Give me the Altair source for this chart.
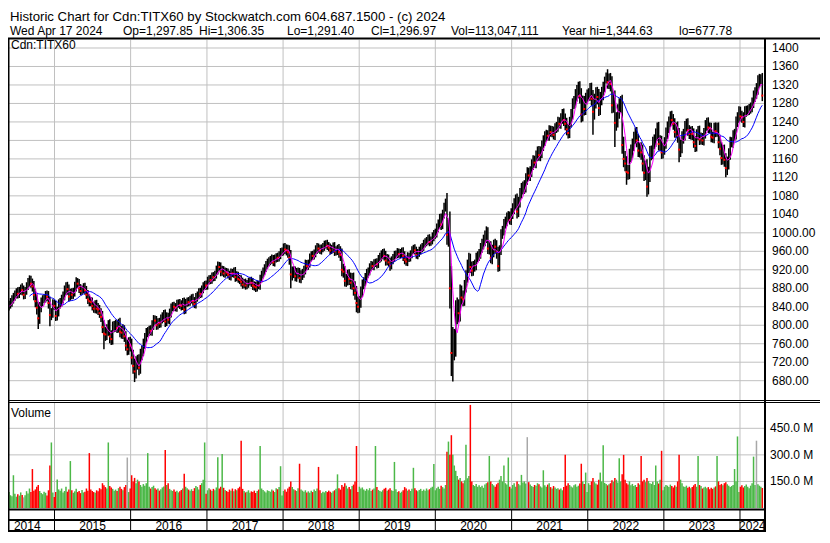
import altair as alt
import numpy as np
import pandas as pd

FONT = "Liberation Sans"
GRID = "#c0c0c0"
RED = "#ff0000"
GREEN = "#4cb848"
GRAY = "#a8a8a8"
MAGENTA = "#ff00ff"
BLUE = "#0000ff"

W, H = 812, 524
PLOT_R = 757
P_TOP, P_BOT = 32, 392
V_TOP, V_BOT = 394, 500

HEADER_1 = "Historic Chart for Cdn:TITX60 by Stockwatch.com 604.687.1500 - (c) 2024"
HEADER_2 = ["Wed Apr 17 2024", "Op=1,297.85", "Hi=1,306.35", "Lo=1,291.40", "Cl=1,296.97",
            "Vol=113,047,111", "Year hi=1,344.63", "lo=677.78"]
HEADER_2_X = [2, 115, 191, 279, 363, 443, 554, 671]

YEARS = [2014, 2015, 2016, 2017, 2018, 2019, 2020, 2021, 2022, 2023, 2024]

# weekly closes (Wednesdays)
CL_2014 = [836, 840, 838, 842, 840, 845, 850, 855, 862, 866, 872, 868, 874, 880, 876, 866, 874, 885, 893, 898,
           890, 884, 866, 852, 838, 815, 838, 850, 856, 858, 865, 862, 848, 822, 826, 846, 842]
CL_2015 = [820, 830, 845, 850, 856, 864, 876, 882, 878, 862, 870, 866, 872, 884, 893, 890, 880, 874, 878, 882,
           876, 866, 856, 852, 850, 842, 836, 844, 836, 834, 826, 818, 796, 782, 780, 790, 798, 776, 770, 796,
           798, 800, 794, 804, 786, 784, 788, 776, 756, 748, 762, 756]
CL_2016 = [730, 712, 700, 718, 722, 708, 736, 744, 760, 772, 784, 786, 790, 788, 800, 812, 810, 800, 806, 804,
           814, 818, 822, 808, 818, 812, 826, 838, 842, 840, 838, 846, 848, 844, 842, 850, 834, 848, 852, 850,
           856, 858, 852, 846, 860, 864, 872, 868, 878, 884, 888, 886]
CL_2017 = [896, 900, 898, 906, 904, 910, 920, 928, 926, 916, 920, 912, 916, 914, 910, 906, 914, 912, 916, 904,
           908, 900, 898, 894, 888, 892, 886, 890, 894, 896, 892, 886, 884, 882, 888, 886, 900, 910, 916, 924,
           930, 936, 938, 942, 944, 936, 944, 948, 946, 952, 958, 960]
CL_2018 = [968, 964, 962, 958, 946, 910, 914, 916, 906, 912, 914, 902, 908, 912, 920, 932, 928, 934, 946, 952,
           950, 956, 964, 968, 966, 962, 966, 970, 974, 976, 972, 968, 962, 966, 970, 960, 962, 964, 958, 952,
           920, 916, 896, 898, 908, 900, 892, 898, 880, 870, 848, 840]
CL_2019 = [850, 872, 888, 894, 904, 912, 916, 926, 930, 928, 934, 936, 932, 944, 948, 952, 956, 950, 940, 944,
           936, 930, 940, 946, 952, 954, 958, 954, 956, 958, 950, 942, 938, 948, 946, 954, 962, 966, 962, 952,
           956, 962, 966, 970, 976, 980, 982, 988, 980, 984, 992, 996]
CL_2020 = [1000, 1010, 1020, 1030, 1018, 1040, 1056, 1064, 996, 1002, 880, 740, 756, 760, 826, 836, 826, 870,
           860, 856, 884, 906, 928, 942, 926, 918, 928, 930, 946, 950, 954, 968, 976, 984, 992, 1000, 966, 970,
           946, 960, 972, 970, 958, 928, 962, 998, 1004, 1020, 1024, 1034, 1036, 1028, 1042]
CL_2021 = [1052, 1064, 1070, 1046, 1066, 1086, 1096, 1098, 1100, 1116, 1130, 1124, 1132, 1148, 1156, 1152, 1166,
           1176, 1168, 1174, 1188, 1200, 1208, 1212, 1210, 1222, 1218, 1220, 1212, 1226, 1230, 1240, 1236, 1248,
           1256, 1244, 1236, 1224, 1216, 1240, 1256, 1280, 1284, 1298, 1306, 1312, 1296, 1256, 1282, 1268, 1290,
           1298]
CL_2022 = [1300, 1310, 1290, 1262, 1284, 1300, 1294, 1270, 1290, 1302, 1312, 1330, 1340, 1326, 1330, 1322, 1276,
           1290, 1238, 1244, 1262, 1276, 1280, 1190, 1160, 1150, 1132, 1130, 1168, 1176, 1190, 1206, 1214, 1200,
           1178, 1180, 1174, 1150, 1130, 1140, 1100, 1126, 1172, 1174, 1194, 1200, 1212, 1226, 1192, 1196, 1174,
           1182]
CL_2023 = [1194, 1216, 1228, 1240, 1252, 1244, 1236, 1218, 1226, 1210, 1180, 1186, 1206, 1212, 1230, 1236, 1222,
           1214, 1218, 1214, 1196, 1188, 1212, 1220, 1202, 1206, 1200, 1216, 1232, 1238, 1228, 1226, 1208, 1206,
           1226, 1220, 1226, 1196, 1182, 1162, 1176, 1158, 1140, 1150, 1170, 1196, 1196, 1210, 1214, 1240, 1250,
           1262]
CL_2024 = [1252, 1250, 1240, 1262, 1264, 1266, 1268, 1272, 1282, 1296, 1302, 1312, 1328, 1330, 1334, 1297]

# extension of each weekly bar beyond its open/close (price units)
WK_2014 = [9, 8, 10, 8, 9, 8, 9, 10, 8, 9, 8, 10, 9, 8, 11, 10, 9, 8, 9, 10, 9, 11, 12, 13, 15, 13, 12, 10, 9, 8,
           9, 10, 12, 13, 11, 10, 9]
WK_2015 = [11, 10, 11, 9, 10, 9, 10, 11, 12, 10, 9, 10, 9, 10, 11, 9, 10, 9, 8, 9, 10, 9, 10, 11, 9, 10, 9, 10,
           11, 12, 10, 11, 13, 15, 14, 12, 13, 15, 13, 12, 11, 12, 11, 10, 12, 13, 14, 12, 11, 13, 12, 13]
WK_2016 = [15, 17, 16, 15, 14, 15, 13, 12, 11, 11, 10, 10, 9, 10, 11, 10, 9, 10, 9, 10, 9, 10, 11, 12, 10, 9, 10,
           9, 8, 9, 8, 9, 8, 9, 10, 9, 10, 9, 8, 9, 8, 9, 10, 9, 10, 9, 8, 9, 8, 9, 8, 9]
WK_2017 = [9, 8, 9, 8, 9, 8, 9, 10, 9, 10, 9, 8, 9, 8, 9, 8, 9, 8, 9, 10, 9, 8, 9, 10, 9, 8, 9, 8, 9, 8, 9, 10, 9,
           10, 9, 8, 9, 8, 9, 8, 9, 8, 9, 8, 9, 8, 9, 8, 9, 8, 9, 8]
WK_2018 = [9, 10, 11, 12, 15, 17, 13, 12, 11, 12, 11, 10, 11, 10, 9, 10, 9, 8, 9, 8, 9, 8, 9, 10, 9, 8, 9, 8, 9, 8,
           9, 8, 9, 8, 9, 10, 9, 10, 12, 13, 14, 13, 12, 13, 12, 13, 14, 15, 16, 15, 15, 14]
WK_2019 = [13, 12, 11, 10, 9, 10, 9, 8, 9, 8, 9, 8, 9, 8, 9, 10, 9, 10, 11, 10, 9, 10, 9, 8, 9, 8, 9, 8, 9, 10, 11,
           10, 9, 10, 9, 8, 9, 8, 9, 8, 9, 8, 9, 8, 9, 8, 9, 8, 9, 8, 9, 10]
WK_2020 = [9, 10, 9, 11, 12, 10, 9, 10, 22, 26, 44, 48, 40, 32, 28, 24, 20, 18, 16, 15, 14, 13, 14, 15, 13, 12, 11,
           12, 11, 10, 11, 10, 11, 12, 13, 14, 12, 13, 12, 14, 13, 15, 14, 12, 11, 10, 11, 10, 11, 10, 11, 10, 11]
WK_2021 = [12, 11, 13, 15, 12, 11, 12, 13, 14, 13, 12, 11, 12, 11, 12, 11, 12, 11, 12, 13, 12, 11, 12, 11, 10, 11,
           10, 11, 10, 11, 10, 11, 10, 11, 12, 13, 14, 13, 12, 11, 12, 11, 12, 13, 14, 15, 16, 17, 15, 14, 13, 12]
WK_2022 = [13, 14, 15, 19, 17, 15, 16, 17, 15, 14, 15, 8, 7, 14, 15, 16, 17, 16, 18, 17, 16, 15, 16, 19, 18, 17,
           16, 15, 14, 15, 14, 13, 14, 15, 14, 15, 16, 17, 18, 16, 19, 17, 16, 15, 14, 13, 14, 13, 14, 15, 14, 13]
WK_2023 = [13, 12, 13, 12, 11, 12, 13, 12, 13, 15, 17, 16, 14, 13, 12, 11, 12, 11, 12, 13, 12, 13, 12, 11, 12, 11,
           10, 11, 12, 11, 12, 11, 12, 11, 12, 13, 12, 13, 14, 15, 14, 15, 14, 15, 13, 12, 11, 12, 11, 12, 11, 12]
WK_2024 = [11, 12, 11, 12, 11, 10, 11, 10, 11, 12, 13, 12, 13, 14, 9, 12]

# volume (millions)
VOL_2014 = [70, 85, 62, 75, 68, 90, 72, 66, 185, 80, 64, 78, 70, 88, 74, 60, 72, 95, 82, 110, 90, 220, 98, 105,
            120, 130, 96, 84, 78, 92, 86, 70, 100, 240, 370, 88, 62]
VOL_2015 = [90, 161, 105, 98, 110, 88, 96, 120, 92, 104, 265, 100, 86, 94, 108, 90, 96, 84, 102, 88, 92, 110, 98,
            310, 104, 96, 90, 86, 100, 94, 112, 106, 140, 128, 118, 110, 370, 124, 116, 108, 98, 104, 96, 112, 120,
            108, 100, 118, 130, 285, 90, 110]
VOL_2016 = [185, 150, 170, 140, 160, 150, 130, 120, 135, 125, 140, 310, 120, 110, 118, 126, 112, 104, 110, 98, 106,
            116, 122, 327, 130, 140, 108, 100, 96, 104, 92, 98, 88, 94, 102, 110, 194, 120, 112, 104, 98, 106, 96,
            112, 124, 118, 104, 130, 140, 160, 370, 80]
VOL_2017 = [100, 112, 104, 96, 108, 100, 116, 286, 110, 120, 305, 114, 102, 96, 90, 104, 98, 110, 94, 106, 100,
            112, 120, 380, 108, 96, 88, 92, 100, 86, 94, 90, 98, 84, 96, 104, 350, 110, 102, 94, 88, 100, 96, 92,
            104, 98, 90, 112, 106, 118, 236, 70]
VOL_2018 = [96, 104, 92, 110, 120, 150, 118, 106, 100, 96, 112, 250, 104, 98, 92, 100, 88, 94, 86, 98, 90, 104, 96,
            110, 232, 100, 84, 92, 88, 96, 90, 98, 92, 86, 94, 100, 108, 190, 112, 104, 130, 120, 140, 126, 110,
            118, 106, 124, 132, 150, 350, 90]
VOL_2019 = [120, 110, 116, 104, 98, 108, 100, 112, 96, 104, 110, 350, 118, 102, 96, 92, 100, 108, 114, 98, 104,
            112, 100, 96, 260, 106, 90, 94, 86, 92, 100, 118, 110, 98, 104, 96, 108, 227, 112, 100, 94, 102, 108,
            96, 104, 98, 110, 100, 106, 114, 120, 248]
VOL_2020 = [100, 112, 120, 108, 126, 118, 110, 130, 318, 375, 300, 411, 300, 240, 210, 180, 160, 170, 150, 140,
            156, 357, 168, 180, 582, 150, 130, 124, 136, 120, 128, 118, 126, 114, 132, 140, 146, 294, 150, 136,
            128, 120, 134, 142, 160, 180, 150, 240, 140, 132, 285, 120, 110]
VOL_2021 = [130, 140, 120, 150, 136, 128, 187, 144, 150, 138, 400, 146, 132, 124, 118, 130, 126, 140, 134, 122,
            116, 213, 128, 120, 132, 140, 118, 110, 124, 116, 108, 112, 104, 110, 100, 118, 300, 126, 140, 130,
            122, 116, 128, 134, 120, 126, 138, 250, 150, 136, 200, 90]
VOL_2022 = [140, 130, 150, 170, 146, 138, 132, 160, 200, 150, 354, 142, 136, 128, 134, 140, 156, 148, 170, 160,
            144, 281, 150, 190, 300, 160, 140, 132, 150, 128, 136, 124, 130, 118, 140, 132, 294, 150, 160, 146,
            170, 152, 140, 136, 148, 130, 240, 150, 138, 160, 323, 100]
VOL_2023 = [120, 130, 126, 118, 132, 124, 116, 128, 120, 150, 300, 160, 140, 122, 118, 126, 114, 120, 112, 118,
            128, 136, 120, 294, 130, 124, 110, 116, 120, 112, 118, 106, 114, 108, 116, 122, 294, 150, 130, 136,
            128, 140, 146, 134, 126, 118, 124, 130, 220, 150, 404, 90]
VOL_2024 = [120, 128, 116, 124, 132, 120, 112, 126, 140, 290, 130, 380, 134, 126, 120, 113]

SPIKE_DATES = ["2014-10-15", "2014-12-10", "2015-08-26", "2016-01-20", "2016-02-10", "2017-08-23", "2018-02-07",
               "2018-12-19", "2019-05-29", "2020-03-18", "2020-03-25", "2022-01-26", "2022-05-11", "2022-07-06",
               "2022-10-12", "2023-03-15", "2023-10-25"]
SPIKE_LOWS = [792, 798, 748, 677, 692, 872, 880, 828, 918, 690, 678, 1212, 1186, 1104, 1078, 1153, 1120]
GRAY_DATES = ["2014-08-06", "2015-12-16", "2021-03-17", "2024-03-20"]

PRICE_TICKS = [680, 720, 760, 800, 840, 880, 920, 960, 1000, 1040, 1080, 1120, 1160, 1200, 1240, 1280, 1320,
               1360, 1400]
PRICE_LABELS = ["680.00", "720.00", "760.00", "800.00", "840.00", "880.00", "920.00", "960.00", "1000.00",
                "1040", "1080", "1120", "1160", "1200", "1240", "1280", "1320", "1360", "1400"]
VOL_TICKS = [150, 300, 450]
VOL_LABELS = ["150.0 M", "300.0 M", "450.0 M"]

CLOSES = [CL_2014, CL_2015, CL_2016, CL_2017, CL_2018, CL_2019, CL_2020, CL_2021, CL_2022, CL_2023, CL_2024]
WICKS = [WK_2014, WK_2015, WK_2016, WK_2017, WK_2018, WK_2019, WK_2020, WK_2021, WK_2022, WK_2023, WK_2024]
VOLUMES = [VOL_2014, VOL_2015, VOL_2016, VOL_2017, VOL_2018, VOL_2019, VOL_2020, VOL_2021, VOL_2022, VOL_2023,
           VOL_2024]

CHART_START = pd.Timestamp("2014-04-15")
CHART_END = pd.Timestamp("2024-04-29")


def wednesdays(y):
    s = "2014-04-23" if y == 2014 else f"{y}-01-01"
    e = "2024-04-17" if y == 2024 else f"{y}-12-31"
    return pd.date_range(s, e, freq="W-WED")


parts = []
for y, cl, wk, vo in zip(YEARS, CLOSES, WICKS, VOLUMES):
    ds = wednesdays(y)
    n = min(len(ds), len(cl), len(wk), len(vo))
    parts.append(pd.DataFrame({"date": ds[:n], "cl": cl[:n], "wick": wk[:n], "vol": vo[:n]}))
df = pd.concat(parts, ignore_index=True)
prev = df["cl"].shift(1).fillna(df["cl"])
df["hi"] = np.maximum(prev, df["cl"]) + df["wick"]
df["lo"] = np.minimum(prev, df["cl"]) - df["wick"]
spikes = dict(zip(pd.to_datetime(SPIKE_DATES), SPIKE_LOWS))
df["lo"] = [min(l, spikes.get(d, l)) for d, l in zip(df["date"], df["lo"])]
df["down"] = df["cl"] < prev
df["vcol"] = np.where(df["down"], RED, GREEN)
df.loc[df["date"].isin(pd.to_datetime(GRAY_DATES)), "vcol"] = GRAY

ptick_df = pd.DataFrame({"v": PRICE_TICKS, "lab": PRICE_LABELS})
vtick_df = pd.DataFrame({"v": VOL_TICKS, "lab": VOL_LABELS})
ystart_df = pd.DataFrame({"d": [pd.Timestamp(f"{y}-01-01") for y in YEARS[1:]]})
mids = []
for y in YEARS:
    a = max(pd.Timestamp(f"{y}-01-01"), CHART_START)
    b = min(pd.Timestamp(f"{y + 1}-01-01"), CHART_END)
    mids.append(a + (b - a) / 2)
ymid_df = pd.DataFrame({"d": mids, "lab": [str(y) for y in YEARS]})

x_scale = alt.Scale(domain=[alt.DateTime(year=2014, month=5, date=23),
                            alt.DateTime(year=2024, month=4, date=29, hours=22)],
                    range=[0, PLOT_R], nice=False)
p_scale = alt.Scale(domain=[638.2, 1417.3], range=[P_BOT, P_TOP], nice=False, zero=False)
v_scale = alt.Scale(domain=[0, 598.5], range=[V_BOT, V_TOP], nice=False, zero=False)

X = alt.X("date:T", scale=x_scale, axis=None)
one = pd.DataFrame({"k": [0]})


def hline(y, x1, x2, w=1.0, c="black"):
    return alt.Chart(one).mark_rule(color=c, strokeWidth=w).encode(
        x=alt.value(x1), x2=alt.value(x2), y=alt.value(y))


def vline(x, y1, y2, w=1.0, c="black"):
    return alt.Chart(one).mark_rule(color=c, strokeWidth=w).encode(
        x=alt.value(x), y=alt.value(y1), y2=alt.value(y2))


def label(s, x, y, size=12, align="left"):
    return alt.Chart(one).mark_text(text=s, font=FONT, fontSize=size, align=align, baseline="middle",
                                    color="black").encode(x=alt.value(x), y=alt.value(y))


price_grid = alt.Chart(ptick_df).mark_rule(color=GRID, strokeWidth=1).encode(
    y=alt.Y("v:Q", scale=p_scale, axis=None), x=alt.value(0), x2=alt.value(PLOT_R))
vol_grid = alt.Chart(vtick_df).mark_rule(color=GRID, strokeWidth=1).encode(
    y=alt.Y("v:Q", scale=v_scale, axis=None), x=alt.value(0), x2=alt.value(PLOT_R))
ygrid_p = alt.Chart(ystart_df).mark_rule(color=GRID, strokeWidth=1).encode(
    x=alt.X("d:T", scale=x_scale, axis=None), y=alt.value(P_TOP), y2=alt.value(P_BOT))
ygrid_v = alt.Chart(ystart_df).mark_rule(color=GRID, strokeWidth=1).encode(
    x=alt.X("d:T", scale=x_scale, axis=None), y=alt.value(V_TOP + 1), y2=alt.value(V_BOT))
ysep = alt.Chart(ystart_df).mark_rule(color="black", strokeWidth=1).encode(
    x=alt.X("d:T", scale=x_scale, axis=None), y=alt.value(502), y2=alt.value(523))

base = alt.Chart(df)
bars = base.mark_rule(color="black", strokeWidth=1.5, clip=True).encode(
    x=X, y=alt.Y("lo:Q", scale=p_scale, axis=None), y2="hi:Q")
reds = base.transform_filter("datum.down").mark_square(size=4, color=RED, opacity=1, clip=True).encode(
    x=X, y=alt.Y("cl:Q", scale=p_scale, axis=None))
ma_long = base.transform_window(
    m="mean(cl)", n="count()", frame=[-19, 0], sort=[alt.SortField("date", order="ascending")]
).transform_filter("datum.n >= 20").mark_line(color=BLUE, strokeWidth=1, clip=True).encode(
    x=X, y=alt.Y("m:Q", scale=p_scale, axis=None))
ma_short = base.transform_window(
    m="mean(cl)", n="count()", frame=[-4, 0], sort=[alt.SortField("date", order="ascending")]
).transform_filter("datum.n >= 5").mark_line(color=MAGENTA, strokeWidth=1, clip=True).encode(
    x=X, y=alt.Y("m:Q", scale=p_scale, axis=None))
vols = base.mark_rule(strokeWidth=1.5, clip=True).encode(
    x=X, y=alt.Y("vol:Q", scale=v_scale, axis=None), y2=alt.datum(0), color=alt.Color("vcol:N", scale=None))

p_labels = alt.Chart(ptick_df).mark_text(font=FONT, fontSize=12, align="left", baseline="middle",
                                         color="black").encode(
    y=alt.Y("v:Q", scale=p_scale, axis=None), x=alt.value(764), text="lab:N")
v_labels = alt.Chart(vtick_df).mark_text(font=FONT, fontSize=12, align="left", baseline="middle",
                                         color="black").encode(
    y=alt.Y("v:Q", scale=v_scale, axis=None), x=alt.value(762), text="lab:N")
y_labels = alt.Chart(ymid_df).mark_text(font=FONT, fontSize=12, align="center", baseline="middle",
                                        color="black").encode(
    x=alt.X("d:T", scale=x_scale, axis=None), y=alt.value(517.5), text="lab:N")

layers = [price_grid, vol_grid, ygrid_p, ygrid_v, ysep, bars, reds, ma_long, ma_short, vols,
          p_labels, v_labels, y_labels,
          label(HEADER_1, 2, 8.5, size=13.2),
          label("Cdn:TITX60", 3, 37),
          label("Volume", 3, 405)]
for s, x in zip(HEADER_2, HEADER_2_X):
    layers.append(label(s, x, 23, size=12))
layers += [
    hline(30.5, 0, W, 2),
    hline(392.5, 0, W, 1),
    hline(394.5, 0, W, 1),
    hline(501.5, 0, PLOT_R, 2),
    hline(512, 0, PLOT_R, 2),
    hline(523, 0, PLOT_R, 2),
    vline(0.75, 30, H, 1.5),
    vline(PLOT_R, 30, H, 2),
]

chart = alt.layer(*layers).resolve_scale(y="independent").properties(
    width=W, height=H, padding=0, autosize=alt.AutoSizeParams(type="none")
).configure_view(stroke=None)

chart.save("out.html", embed_options={"renderer": "svg", "actions": False})
